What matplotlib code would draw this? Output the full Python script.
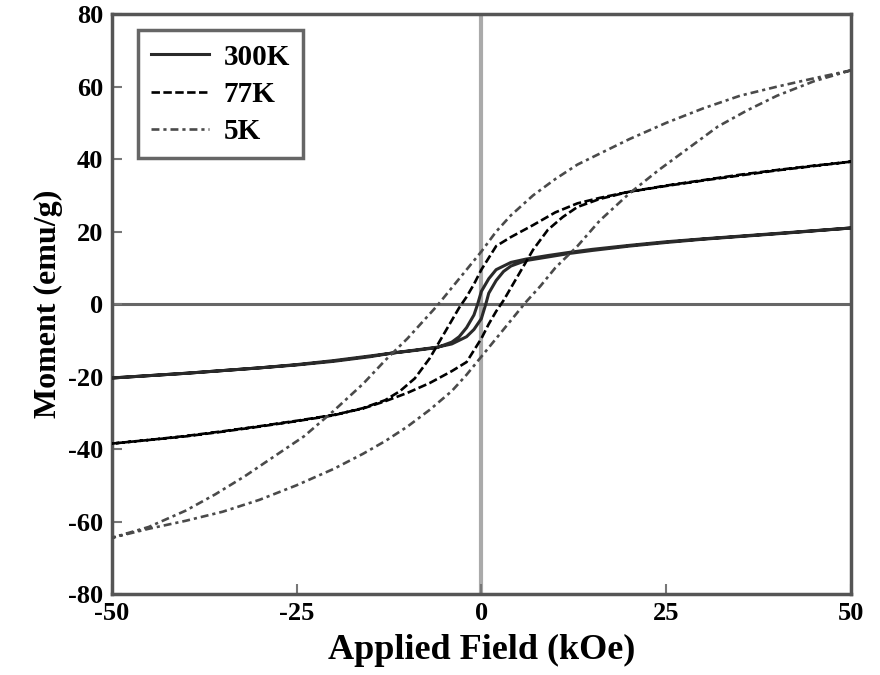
#!/usr/bin/env python
# hysteresis loops M(H) at three temperatures
import matplotlib
matplotlib.use('Agg')
import matplotlib.pyplot as plt

plt.rcParams['font.family'] = 'Liberation Serif'
plt.rcParams['font.weight'] = 'bold'
plt.rcParams['axes.unicode_minus'] = False

# 300K loop, field sweep down then up
H300_down = [50, 40, 30, 25, 20, 15, 12, 9, 6, 4, 2, 1, 0, -0.5, -1, -2, -3, -4, -6, -9, -12, -15, -20, -25, -30, -40, -50]
M300_down = [21, 19.5, 18, 17.2, 16.2, 15.1, 14.3, 13.4, 12.4, 11.5, 9.5, 7, 3.5, 0, -3, -6.5, -9, -10.5, -12, -12.8, -13.5, -14.3, -15.6, -16.7, -17.6, -19.1, -20.4]
H300_up = [-50, -40, -30, -25, -20, -15, -12, -9, -6, -4, -2, -1, 0, 0.6, 1, 2, 3, 4, 6, 9, 12, 15, 20, 25, 30, 40, 50]
M300_up = [-20.4, -19.1, -17.6, -16.8, -15.8, -14.5, -13.5, -12.7, -11.9, -11, -9, -7, -4, 0, 3, 6.5, 9, 10.5, 12, 13, 14, 14.8, 16, 17, 17.9, 19.4, 21]

# 77K loop
H77_down = [50, 45, 40, 35, 30, 25, 20, 16, 13, 10, 7, 4, 2, 0, -1, -2, -3, -5, -7, -9, -11, -13, -16, -20, -25, -30, -35, -40, -45, -50]
M77_down = [39.3, 38.2, 37, 35.7, 34.2, 32.7, 31, 29.3, 27.8, 25.3, 21.8, 18.5, 16, 9.5, 5.5, 2, -1, -8, -15, -20.5, -24, -26.5, -28.7, -30.7, -32.3, -33.8, -35.2, -36.5, -37.5, -38.5]
H77_up = [-50, -45, -40, -35, -30, -25, -20, -16, -13, -10, -7, -4, -2, 0, 1, 2, 3, 5, 7, 9, 11, 13, 16, 20, 25, 30, 35, 40, 45, 50]
M77_up = [-38.5, -37.5, -36.4, -35.1, -33.7, -32.2, -30.6, -28.8, -26.8, -24.5, -21.8, -18.5, -16, -9.5, -5.5, -2, 1, 8, 15, 20.5, 24, 26.8, 29, 31, 32.6, 34.1, 35.5, 36.9, 38.1, 39.3]

# 5K loop
H5_down = [50, 45, 40, 35, 30, 25, 20, 16, 13, 10, 7, 4, 2, 0, -2, -4, -6, -8, -10, -13, -16, -20, -24, -28, -32, -36, -40, -45, -50]
M5_down = [64.5, 62.3, 60, 57.5, 54, 50, 45.5, 41.5, 38.5, 34.5, 30, 24.5, 20, 14.5, 9.5, 4.5, -0.5, -5, -9.5, -15.5, -22, -29.5, -36.5, -42, -47.5, -52.5, -57, -61.5, -64.5]
H5_up = [-50, -45, -40, -35, -30, -25, -20, -16, -13, -10, -7, -4, -2, 0, 2, 4, 6, 8, 10, 13, 16, 20, 24, 28, 32, 36, 40, 45, 50]
M5_up = [-64.5, -62, -59.8, -57.3, -54, -50, -45.5, -41.3, -37.8, -33.8, -29.2, -24, -19.5, -14.5, -9.5, -4.5, 0.5, 5, 10, 16, 23, 30.5, 37, 43, 49, 53.5, 57.5, 61.5, 64.5]

x_ticks = [-50, -25, 0, 25, 50]
y_ticks = [-80, -60, -40, -20, 0, 20, 40, 60, 80]

fig = plt.figure(figsize=(8.8, 6.75), dpi=100)
ax = fig.add_axes([0.127, 0.12, 0.84, 0.859])

# zero lines
ax.axvline(0, color='#aaaaaa', lw=3, zorder=1)
ax.axhline(0, color='#666666', lw=2.2, zorder=1)

l300, = ax.plot(H300_down + H300_up, M300_down + M300_up, color='#2a2a2a', lw=2.2,
                ls='-', label='300K', zorder=3)
l77, = ax.plot(H77_down + H77_up, M77_down + M77_up, color='black', lw=1.9,
               ls=(0, (3.2, 1.3)), label='77K', zorder=3)
l5, = ax.plot(H5_down + H5_up, M5_down + M5_up, color='#4a4a4a', lw=1.9,
              ls=(0, (3, 1.5, 1.2, 1.5)), label='5K', zorder=3)

ax.set_xlim(-50, 50)
ax.set_ylim(-80, 80)
ax.set_xticks(x_ticks)
ax.set_yticks(y_ticks)
ax.set_xticklabels([str(v) for v in x_ticks], fontsize=19, fontweight='bold')
ax.set_yticklabels([str(v) for v in y_ticks], fontsize=19, fontweight='bold')
ax.tick_params(direction='in', length=7, width=1.5, color='#777777', pad=6)

for s in ax.spines.values():
    s.set_linewidth(2.5)
    s.set_color('#555555')

ax.set_xlabel('Applied Field (kOe)', fontsize=26, fontweight='bold', labelpad=6)
ax.set_ylabel('Moment (emu/g)', fontsize=23, fontweight='bold', labelpad=4)

leg = ax.legend(handles=[l300, l77, l5], loc='upper left',
                bbox_to_anchor=(0.035, 0.972), borderaxespad=0,
                fancybox=False, framealpha=1, edgecolor='#666666',
                fontsize=21, handlelength=2.0, labelspacing=0.35,
                borderpad=0.45, handletextpad=0.5)
leg.get_frame().set_linewidth(2.5)
for t in leg.get_texts():
    t.set_fontweight('bold')

fig.savefig('out.png', dpi=100)
